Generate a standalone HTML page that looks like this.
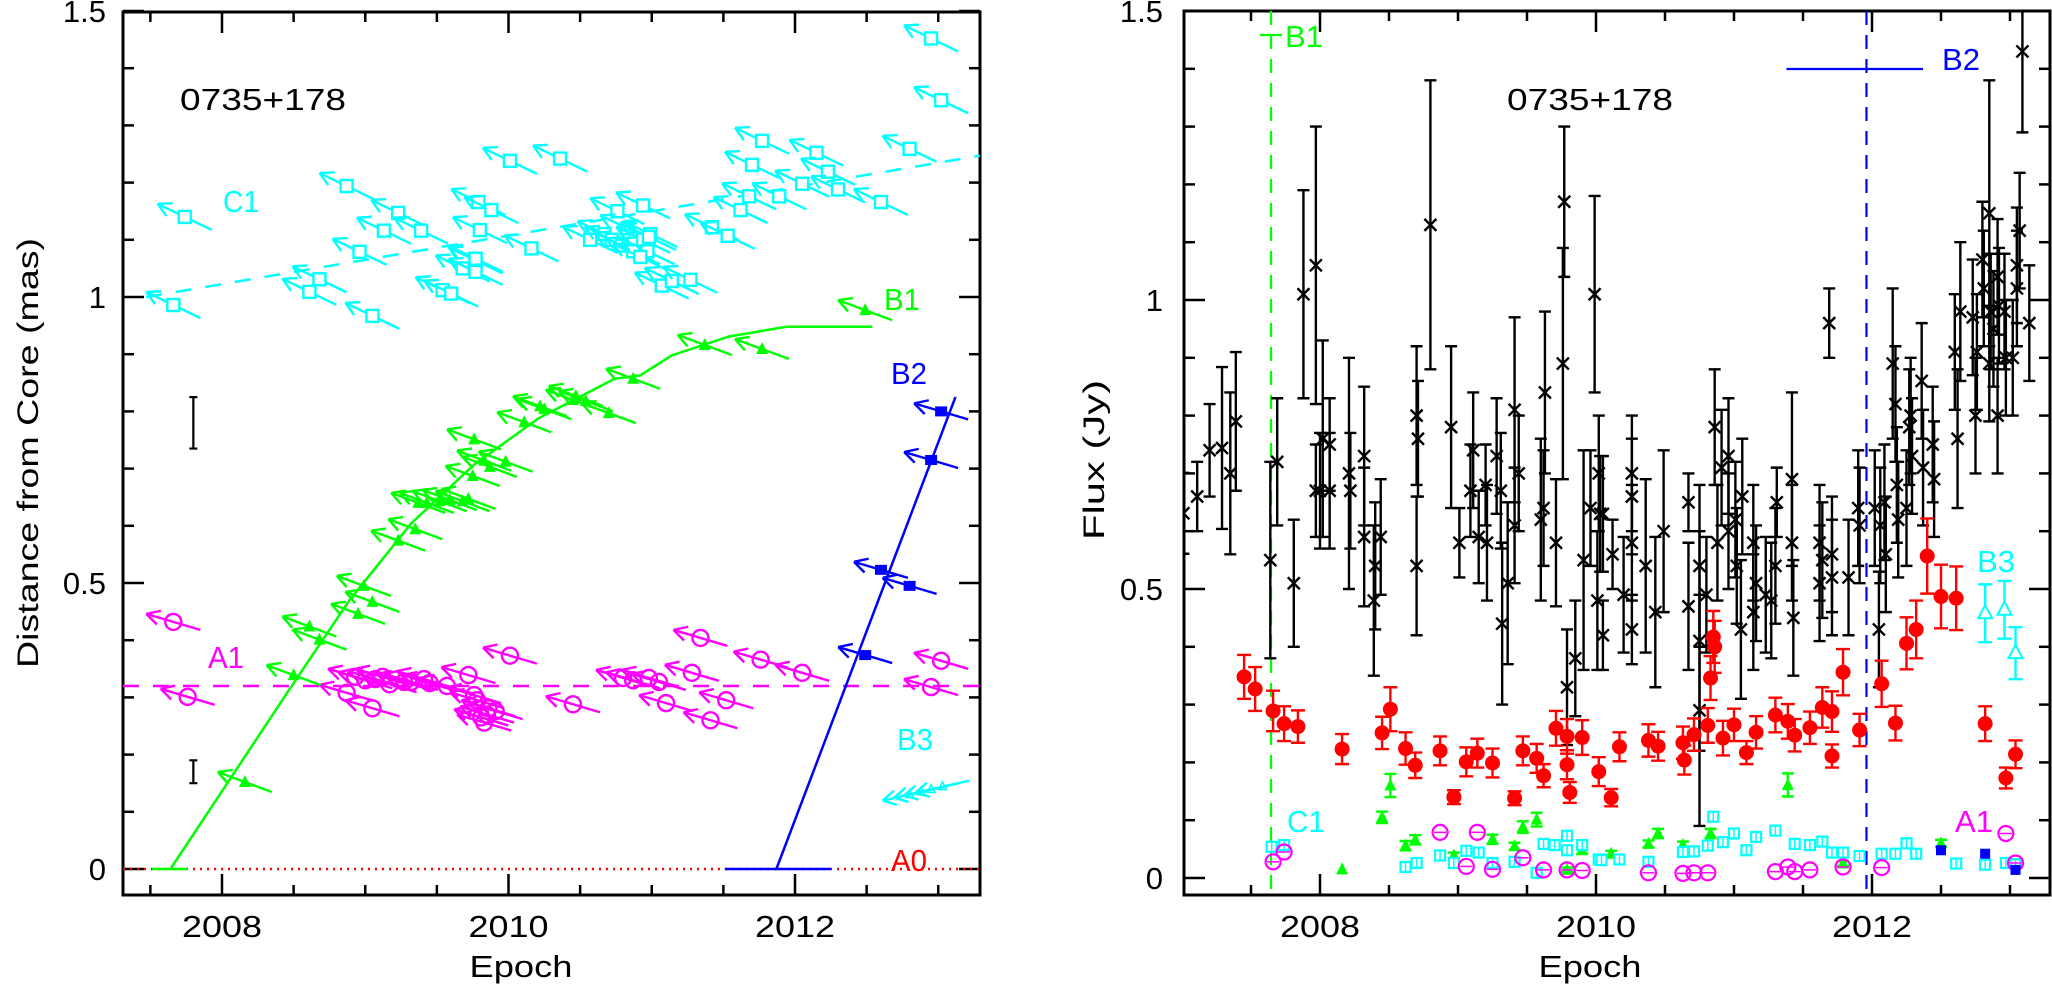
<!DOCTYPE html>
<html><head><meta charset="utf-8"><style>
html,body{margin:0;padding:0;background:#fff;}
svg{display:block;font-family:"Liberation Sans",sans-serif;}
</style></head><body>
<svg id="fig" width="2052" height="984" viewBox="0 0 2052 984" xmlns="http://www.w3.org/2000/svg">
<defs>
<clipPath id="clipL"><rect x="123" y="12" width="857" height="883"/></clipPath>
<clipPath id="clipR"><rect x="1184" y="11" width="867" height="884"/></clipPath>
</defs>
<g id="left"></g>
<g id="right"></g>
</svg>
<script>
// ===== LEFT PANEL DATA (epoch, distance mas) =====
const c1X=[2007.66,2007.74,2008.61,2008.68,2008.96,2009.05,2008.87,2009.13,2009.23,2009.39,2009.54,2009.60,2009.68,2009.77,2009.77,2009.77,2009.79,2009.88,2009.80,2010.01,2010.16,2010.36,2010.57,2010.67,2010.72,2010.76,2010.79,2010.83,2010.87,2010.94,2010.94,2010.97,2010.99,2010.92,2010.98,2011.07,2011.14,2011.27,2011.42,2011.53,2011.62,2011.68,2011.70,2011.77,2011.89,2012.05,2012.15,2012.23,2012.30,2012.60,2012.80,2012.95,2013.02];
const c1Y=[0.986,1.140,1.009,1.031,1.079,0.967,1.194,1.116,1.147,1.116,1.012,1.006,1.050,1.064,1.044,1.067,1.166,1.152,1.117,1.238,1.085,1.242,1.100,1.11,1.10,1.15,1.09,1.12,1.08,1.16,1.10,1.08,1.11,1.07,1.105,1.02,1.028,1.03,1.122,1.107,1.152,1.176,1.231,1.273,1.176,1.198,1.252,1.219,1.188,1.166,1.259,1.452,1.344];
const c1Fit=[[2007.47,1.0],[2013.29,1.247]];
const b1X=[2008.16,2008.50,2008.61,2008.68,2008.95,2008.99,2009.05,2009.23,2009.35,2009.37,2009.43,2009.52,2009.59,2009.68,2009.72,2009.75,2009.76,2009.83,2009.87,2009.98,2010.11,2010.22,2010.25,2010.45,2010.47,2010.54,2010.70,2010.87,2011.37,2011.77,2012.49];
const b1Y=[0.152,0.339,0.424,0.401,0.446,0.495,0.467,0.574,0.594,0.64,0.64,0.643,0.645,0.643,0.647,0.687,0.751,0.714,0.703,0.712,0.781,0.809,0.804,0.82,0.827,0.818,0.797,0.857,0.916,0.909,0.977];
const b1CurveX=[2007.64,2008.50,2008.89,2009.32,2009.76,2010.21,2010.74,2010.92,2011.14,2011.54,2011.94,2012.54];
const b1CurveY=[0,0.325,0.47,0.604,0.707,0.788,0.857,0.863,0.898,0.931,0.948,0.948];
const b1Flat=[2007.51,2007.76];
const a1X=[2007.66,2007.76,2008.87,2009.05,2009.12,2008.93,2009.00,2009.07,2009.17,2009.27,2009.32,2009.41,2009.45,2009.57,2009.72,2009.76,2009.78,2009.81,2009.83,2009.85,2009.86,2009.91,2010.01,2010.45,2010.80,2010.87,2010.98,2011.05,2011.10,2011.28,2011.34,2011.41,2011.52,2011.76,2012.05,2012.95,2013.02];
const a1Y=[0.432,0.301,0.308,0.281,0.336,0.336,0.33,0.332,0.323,0.327,0.327,0.332,0.325,0.32,0.339,0.304,0.295,0.265,0.256,0.27,0.281,0.276,0.373,0.288,0.334,0.33,0.334,0.327,0.29,0.343,0.404,0.26,0.295,0.366,0.343,0.318,0.364];
const a1Level=0.32;
const b2X=[2012.49,2012.60,2012.80,2012.95,2013.02];
const b2Y=[0.374,0.523,0.495,0.715,0.80];
const b2Line=[[2011.87,0],[2013.12,0.825]];
const b2Flat=[2011.51,2012.25];
const b3X=[2012.80,2012.88,2012.95,2013.03];
const b3Y=[0.13,0.135,0.139,0.144];
const errBarX=[2007.80,2007.80];
const errBarY=[0.78,0.17];
const errBarE=[0.045,0.02];
const leftYTicks=["0","0.5","1","1.5"];
const xTickLabels=["2008","2010","2012"];

// ===== RIGHT PANEL DATA (epoch, flux Jy) =====
const bxX=[2007.01,2007.11,2007.20,2007.29,2007.35,2007.39,2007.64,2007.69,2007.81,2007.88,2007.97,2007.97,2008.00,2008.02,2008.07,2008.07,2008.21,2008.22,2008.32,2008.32,2008.39,2008.40,2008.44,2008.70,2008.70,2008.71,2008.80,2008.95,2009.01,2009.09,2009.11,2009.15,2009.20,2009.21,2009.28,2009.31,2009.32,2009.36,2009.41,2009.41,2009.44,2009.60,2009.62,2009.63,2009.71,2009.76,2009.77,2009.79,2009.85,2009.91,2009.96,2009.99,2010.01,2010.02,2010.03,2010.05,2010.05,2010.12,2010.20,2010.26,2010.26,2010.26,2010.26,2010.36,2010.43,2010.49,2010.67,2010.67,2010.75,2010.75,2010.75,2010.80,2010.86,2010.88,2010.91,2010.96,2010.96,2011.01,2011.02,2011.05,2011.06,2011.14,2011.14,2011.16,2011.23,2011.27,2011.30,2011.31,2011.42,2011.42,2011.43,2011.62,2011.62,2011.64,2011.69,2011.71,2011.71,2011.83,2011.90,2011.91,2012.02,2012.05,2012.06,2012.09,2012.10,2012.15,2012.17,2012.18,2012.19,2012.25,2012.27,2012.28,2012.29,2012.36,2012.37,2012.44,2012.45,2012.60,2012.62,2012.64,2012.73,2012.75,2012.76,2012.80,2012.81,2012.85,2012.85,2012.86,2012.88,2012.91,2012.91,2012.92,2012.96,2012.97,2013.02,2013.05,2013.05,2013.07,2013.09,2013.14];
const bxY=[0.631,0.66,0.74,0.744,0.70,0.79,0.55,0.72,0.51,1.01,1.06,0.67,0.67,0.76,0.75,0.67,0.70,0.67,0.73,0.59,0.48,0.54,0.59,0.80,0.54,0.76,1.13,0.78,0.58,0.67,0.74,0.59,0.68,0.58,0.73,0.67,0.44,0.51,0.81,0.61,0.70,0.62,0.64,0.84,0.58,0.89,1.17,0.33,0.38,0.55,0.64,1.01,0.48,0.70,0.63,0.63,0.42,0.56,0.49,0.70,0.66,0.58,0.43,0.54,0.46,0.60,0.65,0.47,0.54,0.41,0.29,0.49,0.78,0.58,0.71,0.73,0.60,0.62,0.54,0.43,0.66,0.58,0.46,0.51,0.49,0.48,0.54,0.65,0.69,0.58,0.45,0.58,0.51,0.55,0.96,0.56,0.52,0.52,0.64,0.61,0.64,0.43,0.61,0.65,0.56,0.89,0.82,0.68,0.62,0.64,0.78,0.80,0.73,0.86,0.71,0.75,0.69,0.91,0.76,0.98,0.97,0.80,0.91,1.07,1.02,1.15,0.89,0.98,0.95,1.04,0.80,0.99,0.98,0.90,0.90,1.02,1.06,1.12,1.43,0.96];
const bxE=[0.07,0.06,0.08,0.14,0.14,0.12,0.17,0.11,0.11,0.18,0.24,0.08,0.1,0.17,0.08,0.1,0.2,0.1,0.12,0.12,0.13,0.11,0.1,0.12,0.12,0.1,0.25,0.14,0.06,0.08,0.1,0.08,0.07,0.1,0.1,0.1,0.14,0.14,0.16,0.1,0.1,0.14,0.1,0.14,0.11,0.2,0.13,0.1,0.1,0.19,0.1,0.17,0.12,0.1,0.1,0.1,0.06,0.06,0.1,0.1,0.1,0.1,0.06,0.15,0.13,0.14,0.05,0.11,0.14,0.19,0.2,0.1,0.1,0.1,0.1,0.1,0.1,0.1,0.1,0.12,0.1,0.1,0.1,0.1,0.1,0.1,0.1,0.06,0.15,0.1,0.1,0.1,0.1,0.1,0.06,0.1,0.1,0.1,0.1,0.1,0.1,0.1,0.1,0.1,0.1,0.13,0.1,0.1,0.1,0.1,0.1,0.1,0.1,0.1,0.1,0.1,0.1,0.1,0.12,0.12,0.1,0.1,0.1,0.1,0.1,0.23,0.1,0.1,0.1,0.1,0.1,0.1,0.1,0.1,0.1,0.1,0.1,0.1,0.14,0.1];
const redX=[2007.45,2007.53,2007.66,2007.74,2007.84,2008.16,2008.45,2008.51,2008.62,2008.69,2008.87,2008.97,2009.06,2009.14,2009.25,2009.41,2009.47,2009.57,2009.62,2009.71,2009.79,2009.79,2009.81,2009.90,2010.02,2010.11,2010.17,2010.38,2010.45,2010.63,2010.64,2010.71,2010.81,2010.83,2010.85,2010.86,2010.92,2011.00,2011.09,2011.16,2011.30,2011.39,2011.44,2011.55,2011.64,2011.71,2011.71,2011.79,2011.91,2012.07,2012.17,2012.25,2012.32,2012.40,2012.50,2012.61,2012.82,2012.97,2013.04];
const redY=[0.348,0.327,0.289,0.267,0.262,0.223,0.251,0.292,0.224,0.195,0.220,0.140,0.201,0.216,0.199,0.138,0.220,0.207,0.177,0.259,0.245,0.196,0.148,0.243,0.184,0.139,0.227,0.238,0.228,0.234,0.204,0.248,0.264,0.346,0.417,0.40,0.242,0.265,0.217,0.252,0.282,0.271,0.247,0.260,0.295,0.288,0.211,0.356,0.256,0.336,0.268,0.406,0.430,0.557,0.487,0.484,0.267,0.173,0.214];
const redE=[0.038,0.038,0.035,0.03,0.028,0.026,0.028,0.038,0.028,0.022,0.025,0.012,0.025,0.025,0.025,0.012,0.025,0.025,0.02,0.03,0.03,0.025,0.018,0.03,0.025,0.015,0.025,0.028,0.025,0.028,0.025,0.028,0.03,0.038,0.045,0.045,0.03,0.028,0.02,0.028,0.03,0.03,0.028,0.028,0.035,0.035,0.02,0.04,0.028,0.04,0.03,0.045,0.05,0.065,0.055,0.055,0.03,0.018,0.024];
const gX=[2008.16,2008.45,2008.51,2008.62,2008.69,2008.97,2009.25,2009.41,2009.47,2009.57,2009.79,2009.90,2010.11,2010.38,2010.45,2010.63,2010.83,2011.39,2011.79,2012.50];
const gY=[0.015,0.105,0.16,0.056,0.066,0.039,0.067,0.055,0.088,0.101,0.014,0.048,0.042,0.059,0.077,0.057,0.077,0.161,0.025,0.060];
const gE=[0,0.01,0.02,0.008,0.008,0.005,0.008,0.006,0.01,0.012,0.004,0.006,0.005,0.006,0.008,0.006,0.008,0.02,0.004,0.006];
const cX=[2007.65,2007.74,2008.62,2008.70,2008.87,2008.97,2009.06,2009.15,2009.25,2009.41,2009.57,2009.62,2009.70,2009.79,2009.79,2009.90,2010.02,2010.04,2010.17,2010.38,2010.63,2010.71,2010.81,2010.85,2010.92,2011.00,2011.09,2011.16,2011.30,2011.44,2011.55,2011.64,2011.71,2011.79,2011.91,2012.07,2012.17,2012.25,2012.32,2012.61,2012.82,2012.97,2013.04];
const cY=[0.054,0.057,0.019,0.026,0.039,0.026,0.047,0.044,0.026,0.028,0.009,0.059,0.057,0.073,0.048,0.057,0.032,0.031,0.032,0.028,0.045,0.046,0.056,0.106,0.062,0.077,0.048,0.071,0.082,0.059,0.057,0.063,0.044,0.044,0.038,0.042,0.042,0.060,0.042,0.025,0.023,0.026,0.024];
const mX=[2007.66,2007.74,2008.87,2009.06,2009.14,2009.25,2009.47,2009.62,2009.79,2009.90,2010.38,2010.63,2010.71,2010.81,2011.30,2011.39,2011.44,2011.55,2011.79,2012.07,2012.97,2013.04];
const mY=[0.028,0.045,0.079,0.020,0.079,0.015,0.035,0.014,0.014,0.013,0.009,0.008,0.009,0.009,0.011,0.019,0.011,0.014,0.019,0.018,0.077,0.026];
const bsX=[2012.50,2012.82,2013.04];
const bsY=[0.048,0.042,0.014];
const b3fX=[2012.82,2012.96,2013.04];
const b3fY=[0.458,0.464,0.389];
const b3fE=[0.05,0.05,0.045];
const b1Epoch=2007.645, b2Epoch=2011.96;
const b2Range=[2011.38,2012.37];
const rightYTicks=["0","0.5","1","1.5"];

// ===== AXES =====
const xL=y=>222+(y-2008)*143.25, yL=m=>869-m*572;
const xR=y=>1320+(y-2008)*138, yR=f=>878-f*578;
const NS="http://www.w3.org/2000/svg";
function el(tag,attrs,parent){const e=document.createElementNS(NS,tag);for(const k in attrs)e.setAttribute(k,attrs[k]);parent.appendChild(e);return e;}
function txt(s,x,y,attrs,parent){const t=el('text',Object.assign({x:x,y:y,'font-size':31},attrs),parent);t.textContent=s;return t;}

const L=document.getElementById('left'), R=document.getElementById('right');

function frame(g,x0,x1,y0,y1,fx,fy,yr0,yr1,yTickLabels,yvals,lblX){
  const ax=el('g',{},g);
  
  
  el('rect',{x:x0,y:y0,width:x1-x0,height:y1-y0,fill:'none',stroke:'#000','stroke-width':3},ax);
  for(let v=0;v<=1.5001;v+=0.1){const yy=fy(v);const maj=Math.abs(v*2-Math.round(v*2))<1e-6;const len=maj?21:11;
    el('line',{x1:x0,y1:yy,x2:x0+len,y2:yy,stroke:'#000','stroke-width':2.5},ax);
    el('line',{x1:x1,y1:yy,x2:x1-len,y2:yy,stroke:'#000','stroke-width':2.5},ax);}
  for(let t=yr0;t<=yr1+1e-6;t+=0.5){const xx=fx(t);if(xx<x0+2||xx>x1-2)continue;const maj=Math.abs(t%2)<1e-6;const len=maj?21:10;
    el('line',{x1:xx,y1:y1,x2:xx,y2:y1-len,stroke:'#000','stroke-width':2.5},ax);
    el('line',{x1:xx,y1:y0,x2:xx,y2:y0+len,stroke:'#000','stroke-width':2.5},ax);}
  xTickLabels.forEach(s=>{const t=txt(s,fx(+s),937,{'text-anchor':'middle',textLength:80,lengthAdjust:'spacingAndGlyphs'},ax);
    });
  yTickLabels.forEach((s,i)=>{const t=txt(s,lblX,fy(yvals[i])+11,{'text-anchor':'end'},ax);
    });
}
frame(L,123,980,12,895,xL,yL,2007.5,2013.5,leftYTicks,[0,0.5,1,1.5],106);
frame(R,1184,2050,11,895,xR,yR,2007.0,2013.5,rightYTicks,[0,0.5,1,1.5],1163);

let t;
t=txt('Epoch',521,977,{'text-anchor':'middle',textLength:103,lengthAdjust:'spacingAndGlyphs'},L);

t=txt('Epoch',1590,977,{'text-anchor':'middle',textLength:103,lengthAdjust:'spacingAndGlyphs'},R);

t=txt('Distance from Core (mas)',0,0,{'text-anchor':'middle',transform:'translate(38,453) rotate(-90)','font-size':30,textLength:430,lengthAdjust:'spacingAndGlyphs'},L);

t=txt('Flux (Jy)',0,0,{'text-anchor':'middle',transform:'translate(1104,460) rotate(-90)','font-size':30,textLength:160,lengthAdjust:'spacingAndGlyphs'},R);

t=txt('0735+178',180,110,{textLength:166,lengthAdjust:'spacingAndGlyphs'},L);

t=txt('0735+178',1507,110,{textLength:166,lengthAdjust:'spacingAndGlyphs'},R);


// ===== LEFT DATA =====
const gl=el('g',{'clip-path':'url(#clipL)'},L);
el('line',{x1:123,y1:yL(0),x2:980,y2:yL(0),stroke:'#f00','stroke-width':2.5,'stroke-dasharray':'2 5'},gl);
el('line',{x1:xL(c1Fit[0][0]),y1:yL(c1Fit[0][1]),x2:xL(c1Fit[1][0]),y2:yL(c1Fit[1][1]),stroke:'#0ff','stroke-width':2.5,'stroke-dasharray':'16 14'},gl);
el('line',{x1:123,y1:yL(a1Level),x2:980,y2:yL(a1Level),stroke:'#f0f','stroke-width':2.5,'stroke-dasharray':'16 14'},gl);
el('line',{x1:xL(b1Flat[0]),y1:yL(0),x2:xL(b1Flat[1]),y2:yL(0),stroke:'#0f0','stroke-width':2.5},gl);
el('polyline',{points:b1CurveX.map((x,i)=>xL(x)+','+yL(b1CurveY[i])).join(' '),fill:'none',stroke:'#0f0','stroke-width':2.5},gl);
el('line',{x1:xL(b2Flat[0]),y1:yL(0),x2:xL(b2Flat[1]),y2:yL(0),stroke:'#00f','stroke-width':2.5},gl);
el('line',{x1:xL(b2Line[0][0]),y1:yL(b2Line[0][1]),x2:xL(b2Line[1][0]),y2:yL(b2Line[1][1]),stroke:'#00f','stroke-width':2.5},gl);

function arrow(g,x,y,dx,dy,col){
  el('line',{x1:x+dx,y1:y+dy,x2:x-dx,y2:y-dy,stroke:col,'stroke-width':2.4},g);
  const tx=x-dx,ty=y-dy,a=Math.atan2(dy,dx);
  [0.5,-0.5].forEach(o=>{el('line',{x1:tx,y1:ty,x2:tx+15*Math.cos(a+o),y2:ty+15*Math.sin(a+o),stroke:col,'stroke-width':2.4},g);});
}
function series(xs,ys,col,dx,dy,shape,name){
  const g=el('g',{},gl);
  
  
  xs.forEach((xv,i)=>{const x=xL(xv),y=yL(ys[i]);arrow(g,x,y,dx,dy,col);
    let m;
    if(shape==='sq')m=el('rect',{x:x-6,y:y-6,width:12,height:12,fill:'#fff',stroke:col,'stroke-width':2.4},g);
    else if(shape==='fsq')m=el('rect',{x:x-6,y:y-5,width:12,height:10,fill:col},g);
    else if(shape==='ci')m=el('circle',{cx:x,cy:y,r:8,fill:'none',stroke:col,'stroke-width':2.4},g);
    else if(shape==='tri')m=el('polygon',{points:`${x},${y-7} ${x-6},${y+5} ${x+6},${y+5}`,fill:col},g);
    else m=el('polygon',{points:`${x},${y-5} ${x-4},${y+3} ${x+4},${y+3}`,fill:'none',stroke:col,'stroke-width':1.5},g);
    
    
  });
}
series(c1X,c1Y,'#0ff',27,13,'sq','c1-points');
series(a1X,a1Y,'#f0f',27,8,'ci','a1-points');
series(b1X,b1Y,'#0f0',27,10,'tri','b1-points');
series(b2X,b2Y,'#00f',27,8,'fsq','b2-points');
series(b3X,b3Y,'#0ff',27,-6,'otri','b3-points');
errBarX.forEach((xv,i)=>{const x=xL(xv);const y1=yL(errBarY[i]+errBarE[i]),y2=yL(errBarY[i]-errBarE[i]);
  const e=el('path',{d:`M${x},${y1}V${y2}M${x-4},${y1}H${x+4}M${x-4},${y2}H${x+4}`,stroke:'#000','stroke-width':2.2,fill:'none'},gl);
  
  });
[['C1',223,212,'#0ff'],['A1',208,668,'#f0f'],['B1',884,310,'#0f0'],['B2',891,384,'#00f'],['B3',897,750,'#0ff'],['A0',891,871,'#f00']].forEach(d=>{
  const t=txt(d[0],d[1],d[2],{fill:d[3],textLength:36,lengthAdjust:'spacingAndGlyphs'},L);
  
  });

// ===== RIGHT DATA =====
const gr=el('g',{'clip-path':'url(#clipR)'},R);
el('line',{x1:xR(b1Epoch),y1:11,x2:xR(b1Epoch),y2:895,stroke:'#0f0','stroke-width':2.2,'stroke-dasharray':'14 10'},gr);
el('line',{x1:xR(b2Epoch),y1:11,x2:xR(b2Epoch),y2:895,stroke:'#00f','stroke-width':2.2,'stroke-dasharray':'14 10'},gr);
el('line',{x1:xR(b1Epoch)-11,y1:35,x2:xR(b1Epoch)+11,y2:35,stroke:'#0f0','stroke-width':2.2},gr);
el('line',{x1:xR(b2Range[0]),y1:69,x2:xR(b2Range[1]),y2:69,stroke:'#00f','stroke-width':2.2},gr);
function ebar(g,x,y1,y2,col,w){if(y1===y2)return;el('path',{d:`M${x},${y1}V${y2}M${x-w},${y1}H${x+w}M${x-w},${y2}H${x+w}`,stroke:col,'stroke-width':2.4,fill:'none'},g);}
const gb=el('g',{},gr);
bxX.forEach((xv,i)=>{const x=xR(xv),y=yR(bxY[i]);ebar(gb,x,yR(bxY[i]+bxE[i]),yR(bxY[i]-bxE[i]),'#000',6);
  const m=el('path',{d:`M${x-6},${y-6}L${x+6},${y+6}M${x-6},${y+6}L${x+6},${y-6}`,stroke:'#000','stroke-width':2.4},gb);
  
  });
const grd=el('g',{},gr);
redX.forEach((xv,i)=>{const x=xR(xv),y=yR(redY[i]);ebar(grd,x,yR(redY[i]+redE[i]),yR(redY[i]-redE[i]),'#f00',7);
  const m=el('circle',{cx:x,cy:y,r:7.5,fill:'#f00'},grd);
  
  });
const gg=el('g',{},gr);
gX.forEach((xv,i)=>{const x=xR(xv),y=yR(gY[i]);ebar(gg,x,yR(gY[i]+gE[i]),yR(gY[i]-gE[i]),'#0f0',6);
  const m=el('polygon',{points:`${x},${y-7} ${x-6},${y+5} ${x+6},${y+5}`,fill:'#0f0'},gg);
  
  });
const gc=el('g',{},gr);
cX.forEach((xv,i)=>{const x=xR(xv),y=yR(cY[i]);
  const m=el('rect',{x:x-5,y:y-5,width:10,height:10,fill:'#fff',stroke:'#0ff','stroke-width':2.2},gc);
  el('line',{x1:x,y1:y-5,x2:x,y2:y+5,stroke:'#0ff','stroke-width':1.5},gc);
  
  });
const gm=el('g',{},gr);
mX.forEach((xv,i)=>{const x=xR(xv),y=yR(mY[i]);
  const m=el('circle',{cx:x,cy:y,r:7.5,fill:'none',stroke:'#f0f','stroke-width':2.2},gm);
  el('line',{x1:x-6,y1:y,x2:x+6,y2:y,stroke:'#f0f','stroke-width':1.5},gm);
  
  });
const gbs=el('g',{},gr);
bsX.forEach((xv,i)=>{const x=xR(xv),y=yR(bsY[i]);
  const m=el('rect',{x:x-5,y:y-5,width:10,height:10,fill:'#00f'},gbs);
  
  });
const gb3=el('g',{},gr);
b3fX.forEach((xv,i)=>{const x=xR(xv),y=yR(b3fY[i]);ebar(gb3,x,yR(b3fY[i]+b3fE[i]),yR(b3fY[i]-b3fE[i]),'#0ff',7);
  const m=el('polygon',{points:`${x},${y-8} ${x-7},${y+5} ${x+7},${y+5}`,fill:'#fff',stroke:'#0ff','stroke-width':2},gb3);
  
  });
[['B1',xR(b1Epoch)+14,47,'#0f0'],['B2',1942,70,'#00f'],['C1',1287,832,'#0ff'],['B3',1977,572,'#0ff'],['A1',1955,832,'#f0f']].forEach(d=>{
  const t=txt(d[0],d[1],d[2],{fill:d[3],textLength:38,lengthAdjust:'spacingAndGlyphs'},R);
  
  });
</script>
</body></html>
